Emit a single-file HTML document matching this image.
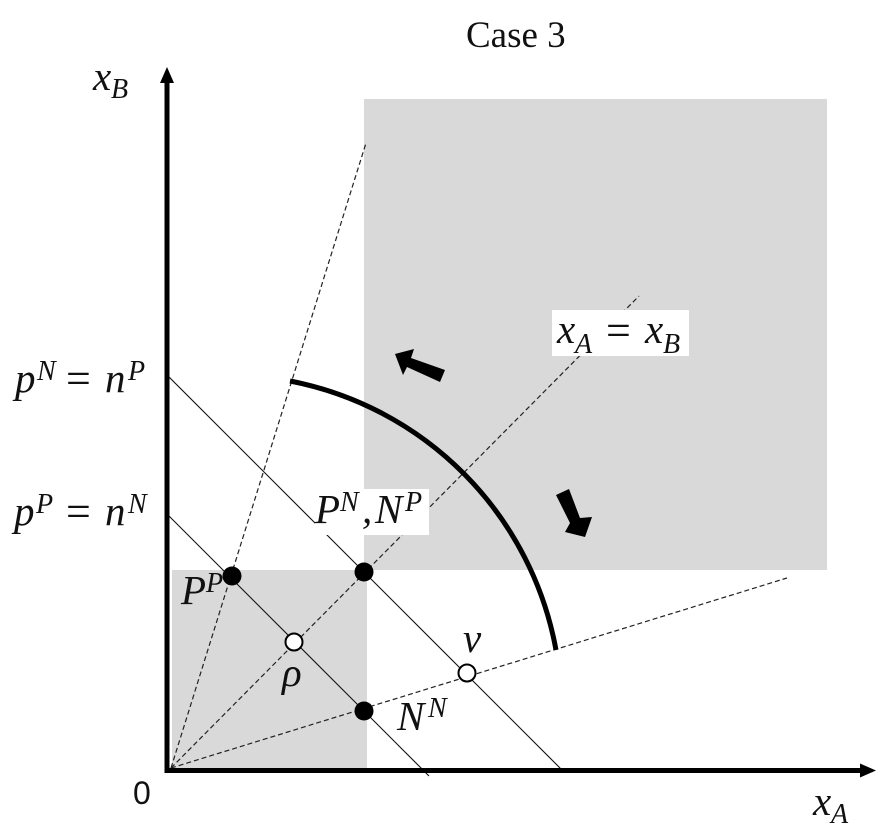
<!DOCTYPE html>
<html lang="en">
<head>
<meta charset="utf-8">
<title>Case 3</title>
<style>
html,body{margin:0;padding:0;background:#fff;}
svg{display:block;}
.m{font-family:"Liberation Serif",serif;font-style:italic;font-size:41px;fill:#111;}
.s{font-family:"Liberation Serif",serif;font-style:italic;font-size:28px;fill:#111;}
.u{font-family:"Liberation Serif",serif;font-size:44px;fill:#111;}
</style>
</head>
<body>
<svg id="chart" xmlns="http://www.w3.org/2000/svg" width="891" height="837" viewBox="0 0 891 837">
  <rect x="364" y="99" width="463" height="471" fill="#d9d9d9"/>
  <rect x="172" y="570" width="195" height="198" fill="#d9d9d9"/>
  <g id="lines"></g>
  <rect x="552" y="310" width="137" height="46" fill="#fff"/>
  <rect x="315" y="489" width="114" height="46" fill="#fff"/>

  <path d="M290 381 A335 335 0 0 1 556 650" fill="none" stroke="#000" stroke-width="5"/>
  <polygon points="395,354 414,349 411,358 445,370 440,382 407,367 403,375" fill="#000"/>
  <polygon points="556,495 569,489 580,518 592,517 585,537 565,532 570,523" fill="#000"/>

  <line x1="167" y1="773" x2="167" y2="80" stroke="#000" stroke-width="5"/>
  <polygon points="167,67 160,83 174,83" fill="#000"/>
  <line x1="165" y1="770.5" x2="862" y2="770.5" stroke="#000" stroke-width="5"/>
  <polygon points="876,770.5 860,763.5 860,777.5" fill="#000"/>

  <g id="points"></g>

  <text x="466" y="47" style="font-family:'Liberation Serif',serif;font-size:37px;fill:#111;">Case 3</text>
  <text x="133" y="804" style="font-family:'Liberation Sans',sans-serif;font-size:32px;fill:#111;">0</text>

  <g>
    <text class="m" x="93" y="90">x</text><text class="s" x="111" y="98">B</text>
  </g>
  <g>
    <text class="m" x="813" y="815">x</text><text class="s" x="831" y="823">A</text>
  </g>
  <g>
    <text class="m" x="15" y="392">p</text><text class="s" x="37" y="380">N</text>
    <text class="u" x="66" y="393">=</text>
    <text class="m" x="105" y="392">n</text><text class="s" x="128" y="380">P</text>
  </g>
  <g>
    <text class="m" x="14" y="525">p</text><text class="s" x="36" y="513">P</text>
    <text class="u" x="66" y="526">=</text>
    <text class="m" x="105" y="525">n</text><text class="s" x="128" y="513">N</text>
  </g>
  <g>
    <text class="m" x="315" y="523">P</text><text class="s" x="340" y="511">N</text>
    <text class="m" x="362" y="523">,</text>
    <text class="m" x="375" y="523">N</text><text class="s" x="405" y="511">P</text>
  </g>
  <g>
    <text class="m" x="181" y="604">P</text><text class="s" x="206" y="592">P</text>
  </g>
  <g>
    <text class="m" x="397" y="730">N</text><text class="s" x="428" y="717">N</text>
  </g>
  <text class="m" x="282" y="686">&#961;</text>
  <text class="m" x="463" y="652">&#957;</text>
  <g>
    <text class="m" x="557" y="343">x</text><text class="s" x="575" y="353">A</text>
    <text class="u" x="606" y="345">=</text>
    <text class="m" x="645" y="343">x</text><text class="s" x="663" y="353">B</text>
  </g>
</svg>
<script>
// Values in axis units (1 unit = 100 px from the origin)
const budgetStartX = [-0.03, -0.03];
const budgetStartY = [3.92, 2.53];
const budgetEndX = [3.90, 2.58];
const budgetEndY = [-0.01, -0.08];
const rayEndX = [1.95, 4.68, 6.16];
const rayEndY = [6.25, 4.72, 1.90];
const filledX = [0.61, 1.93, 1.93];
const filledY = [1.92, 1.96, 0.57];
const openX = [1.23, 2.96];
const openY = [1.26, 0.95];

const xScale = v => 171 + v * 100;
const yScale = v => 768 - v * 100;
const NS = 'http://www.w3.org/2000/svg';
const lines = document.getElementById('lines');
const points = document.getElementById('points');

rayEndX.forEach((x, i) => {
  const el = document.createElementNS(NS, 'line');
  
  
  el.setAttribute('x1', xScale(0));
  el.setAttribute('y1', yScale(0));
  el.setAttribute('x2', xScale(x));
  el.setAttribute('y2', yScale(rayEndY[i]));
  el.setAttribute('stroke', '#222');
  el.setAttribute('stroke-width', '1.2');
  el.setAttribute('stroke-dasharray', '5 3');
  lines.appendChild(el);
});

budgetStartX.forEach((x, i) => {
  const el = document.createElementNS(NS, 'line');
  
  
  el.setAttribute('x1', xScale(x));
  el.setAttribute('y1', yScale(budgetStartY[i]));
  el.setAttribute('x2', xScale(budgetEndX[i]));
  el.setAttribute('y2', yScale(budgetEndY[i]));
  el.setAttribute('stroke', '#111');
  el.setAttribute('stroke-width', '1.1');
  lines.appendChild(el);
});

filledX.forEach((x, i) => {
  const el = document.createElementNS(NS, 'circle');
  
  
  el.setAttribute('cx', xScale(x));
  el.setAttribute('cy', yScale(filledY[i]));
  el.setAttribute('r', '9.5');
  el.setAttribute('fill', '#000');
  points.appendChild(el);
});

openX.forEach((x, i) => {
  const el = document.createElementNS(NS, 'circle');
  
  
  el.setAttribute('cx', xScale(x));
  el.setAttribute('cy', yScale(openY[i]));
  el.setAttribute('r', '8.5');
  el.setAttribute('fill', '#fff');
  el.setAttribute('stroke', '#000');
  el.setAttribute('stroke-width', '2');
  points.appendChild(el);
});
</script>
</body>
</html>
